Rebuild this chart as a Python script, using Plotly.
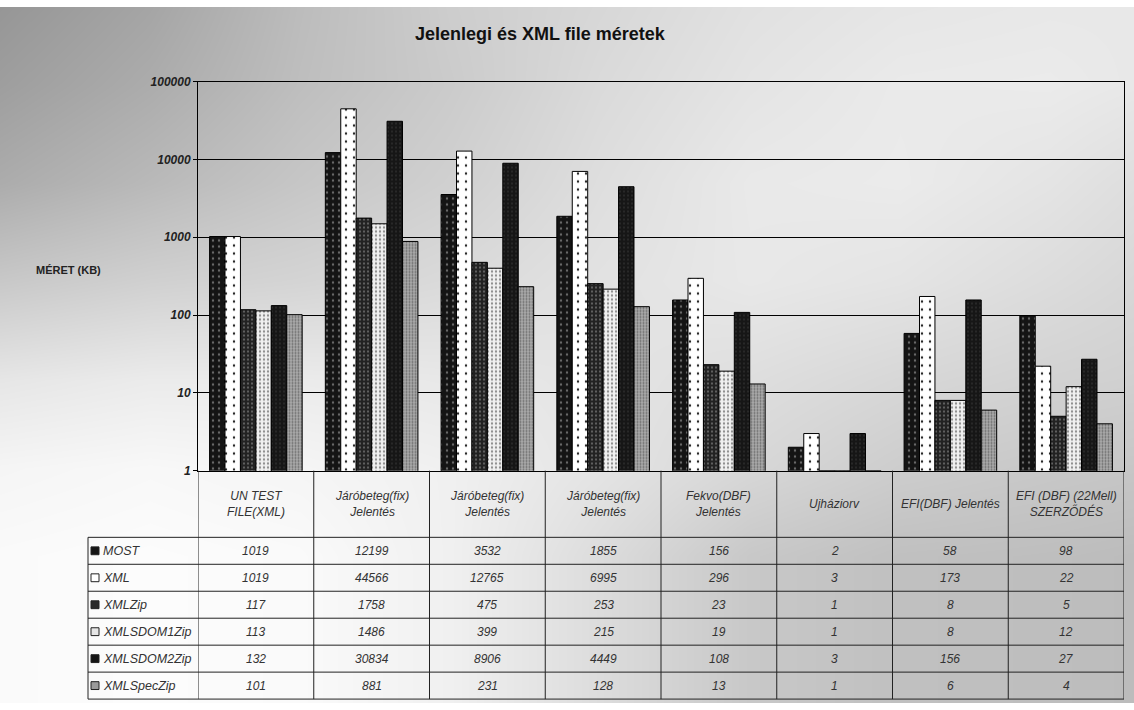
import plotly.graph_objects as go

W, H = 1134, 710

# ---- data -------------------------------------------------------------
categories = [
    "UN TEST<br>FILE(XML)",
    "Járóbeteg(fix)<br>Jelentés",
    "Járóbeteg(fix)<br>Jelentés",
    "Járóbeteg(fix)<br>Jelentés",
    "Fekvo(DBF)<br>Jelentés",
    "Ujháziorv",
    "EFI(DBF) Jelentés",
    "EFI (DBF) (22Mell)<br>SZERZŐDÉS",
]
series_names = ["MOST", "XML", "XMLZip", "XMLSDOM1Zip", "XMLSDOM2Zip", "XMLSpecZip"]
most = [1019, 12199, 3532, 1855, 156, 2, 58, 98]
xml = [1019, 44566, 12765, 6995, 296, 3, 173, 22]
xml_zip = [117, 1758, 475, 253, 23, 1, 8, 5]
xml_sdom1_zip = [113, 1486, 399, 215, 19, 1, 8, 12]
xml_sdom2_zip = [132, 30834, 8906, 4449, 108, 3, 156, 27]
xml_spec_zip = [101, 881, 231, 128, 13, 1, 6, 4]
series_values = [most, xml, xml_zip, xml_sdom1_zip, xml_sdom2_zip, xml_spec_zip]

y_tick_vals = [1, 10, 100, 1000, 10000, 100000]
y_tick_text = ["1", "10", "100", "1000", "10000", "100000"]

# ---- styling ----------------------------------------------------------
FONT = "Liberation Sans, Arial, sans-serif"
bar_patterns = [
    dict(shape=".", bgcolor="#141414", fgcolor="#6a6a6a", size=6, solidity=0.12, fillmode="replace"),
    dict(shape=".", bgcolor="#ffffff", fgcolor="#222222", size=8, solidity=0.07, fillmode="replace"),
    dict(shape=".", bgcolor="#222222", fgcolor="#6e6e6e", size=4, solidity=0.22, fillmode="replace"),
    dict(shape=".", bgcolor="#f0f0f0", fgcolor="#8a8a8a", size=4, solidity=0.25, fillmode="replace"),
    dict(shape=".", bgcolor="#161616", fgcolor="#2e2e2e", size=4, solidity=0.2, fillmode="replace"),
    dict(shape=".", bgcolor="#ababab", fgcolor="#6a6a6a", size=3, solidity=0.35, fillmode="replace"),
]
key_fill = ["#151515", "#ffffff", "#2a2a2a", "#e6e6e6", "#151515", "#9a9a9a"]

# page shading (grey levels laid out on a coarse grid, smoothed by the heatmap)
shade_x = [0, 150, 300, 450, 600, 750, 900, 1050, 1134]
shade_y = [0, 80, 180, 280, 380, 470, 560, 710]
shade_z = [
    [150, 165, 188, 205, 215, 225, 230, 232, 232],
    [158, 172, 190, 203, 218, 228, 234, 235, 232],
    [172, 185, 198, 208, 222, 233, 235, 228, 222],
    [200, 208, 212, 218, 226, 232, 228, 220, 215],
    [230, 235, 235, 232, 228, 222, 215, 210, 208],
    [245, 248, 245, 240, 228, 215, 205, 200, 198],
    [250, 252, 250, 240, 220, 200, 192, 190, 188],
    [250, 252, 250, 240, 220, 200, 192, 190, 188],
]

# geometry in pixels
PLOT_L, PLOT_R, PLOT_T, PLOT_B = 198, 1124, 76, 473
TABLE_L = 88
ROW_TOP = 541
ROW_H = 27.5


def px_x(p):
    return p / W


def px_y(p):
    return 1 - p / H


fig = go.Figure()

fig.add_trace(go.Heatmap(
    x=shade_x, y=shade_y, z=shade_z, xaxis="x", yaxis="y",
    colorscale=[[0, "black"], [1, "white"]], zmin=0, zmax=255,
    zsmooth="best", showscale=False, hoverinfo="skip",
))

n = len(categories)
idx = list(range(n))
for name, vals, pat in zip(series_names, series_values, bar_patterns):
    fig.add_trace(go.Bar(
        x=idx, y=vals, name=name, xaxis="x2", yaxis="y2",
        marker=dict(pattern=pat, line=dict(color="black", width=1)),
        showlegend=False,
    ))

shapes = []
annotations = []

# table grid
n_rows = len(series_names)
for r in range(n_rows + 1):
    yy = ROW_TOP + ROW_H * r
    shapes.append(dict(type="line", xref="paper", yref="paper",
                       x0=px_x(TABLE_L), x1=px_x(PLOT_R), y0=px_y(yy), y1=px_y(yy),
                       line=dict(color="#222", width=1), layer="above"))
shapes.append(dict(type="line", xref="paper", yref="paper",
                   x0=px_x(TABLE_L), x1=px_x(TABLE_L),
                   y0=px_y(ROW_TOP), y1=px_y(ROW_TOP + ROW_H * n_rows),
                   line=dict(color="#222", width=1), layer="above"))
for i in range(n + 1):
    shapes.append(dict(type="line", xref="x2", yref="paper",
                       x0=i - 0.5, x1=i - 0.5,
                       y0=px_y(PLOT_B), y1=px_y(ROW_TOP + ROW_H * n_rows),
                       line=dict(color="#222", width=1), layer="above"))

# category header
for i, c in enumerate(categories):
    annotations.append(dict(xref="x2", yref="paper", x=i, y=px_y(507),
                            text=c, showarrow=False, xanchor="center", yanchor="middle",
                            font=dict(family=FONT, size=12, color="#333", style="italic")))

# rows: legend key + values
for r, (name, vals) in enumerate(zip(series_names, series_values)):
    yc = ROW_TOP + ROW_H * (r + 0.5)
    shapes.append(dict(type="rect", xref="paper", yref="paper",
                       x0=px_x(91), x1=px_x(99), y0=px_y(yc + 4), y1=px_y(yc - 4),
                       fillcolor=key_fill[r], line=dict(color="#222", width=1), layer="above"))
    annotations.append(dict(xref="paper", yref="paper", x=px_x(101), y=px_y(yc),
                            text=name, showarrow=False, xanchor="left", yanchor="middle",
                            font=dict(family=FONT, size=12.5, color="#333", style="italic")))
    for i, v in enumerate(vals):
        annotations.append(dict(xref="x2", yref="paper", x=i, y=px_y(yc),
                                text=str(v), showarrow=False, xanchor="center", yanchor="middle",
                                font=dict(family=FONT, size=12, color="#333", style="italic")))

# title and y-axis caption
annotations.append(dict(xref="paper", yref="paper", x=px_x(540), y=px_y(28),
                        text="Jelenlegi és XML file méretek", showarrow=False,
                        xanchor="center", yanchor="middle",
                        font=dict(family=FONT, size=18, color="#111", weight="bold")))
annotations.append(dict(xref="paper", yref="paper", x=px_x(34), y=px_y(268),
                        text="MÉRET (KB)", showarrow=False,
                        xanchor="left", yanchor="middle",
                        font=dict(family=FONT, size=11, color="#222", weight="bold")))

fig.update_layout(
    width=W, height=H,
    margin=dict(l=0, r=0, t=0, b=0),
    paper_bgcolor="white", plot_bgcolor="rgba(0,0,0,0)",
    barmode="group", bargap=0.2, bargroupgap=0,
    xaxis=dict(domain=[0, 1], range=[0, W], visible=False, fixedrange=True),
    yaxis=dict(domain=[0, 1], range=[H, 0], visible=False, fixedrange=True),
    xaxis2=dict(domain=[px_x(PLOT_L), px_x(PLOT_R)], range=[-0.5, n - 0.5],
                anchor="y2", showticklabels=False, ticks="", showgrid=False,
                showline=True, linecolor="black", linewidth=1, mirror=True, zeroline=False),
    yaxis2=dict(domain=[px_y(PLOT_B), px_y(PLOT_T)], type="log", range=[0, 5],
                anchor="x2", tickvals=y_tick_vals, ticktext=y_tick_text,
                ticks="outside", ticklen=4, tickcolor="black",
                tickfont=dict(family=FONT, size=12, color="#222", weight="bold", style="italic"),
                showgrid=True, gridcolor="black", gridwidth=1,
                showline=True, linecolor="black", linewidth=1, mirror=True),
    shapes=shapes,
    annotations=annotations,
    font=dict(family=FONT),
)

fig.write_html("out.html")
